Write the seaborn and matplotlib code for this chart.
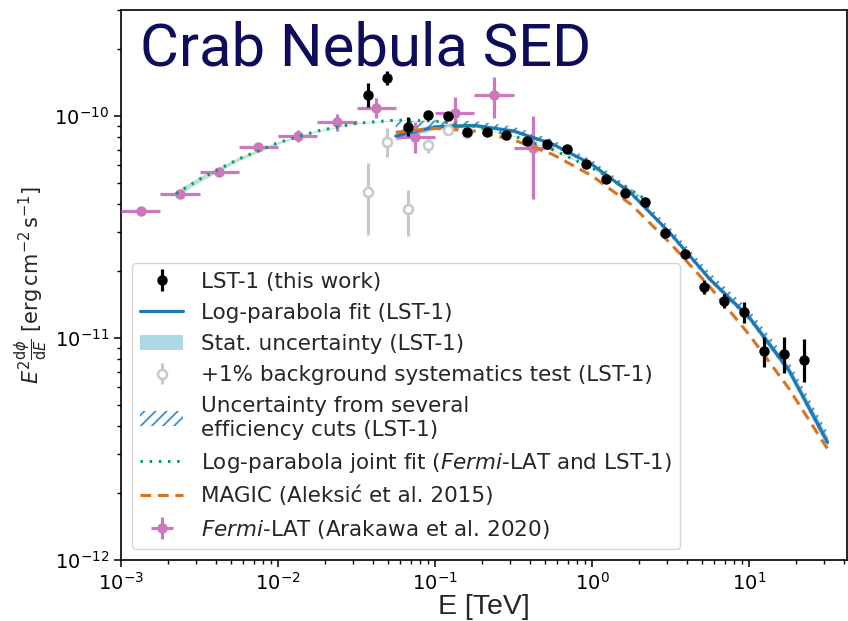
import numpy as np
import pandas as pd
import matplotlib
matplotlib.use("Agg")
import matplotlib.pyplot as plt
import seaborn as sns
from matplotlib.patches import Patch
from matplotlib.lines import Line2D
from matplotlib.ticker import FixedLocator

# ---------------- data ----------------
# LST-1 flux points [TeV], E^2 dN/dE [erg cm^-2 s^-1]
lst_energy = [0.0374, 0.0494, 0.0673, 0.0902, 0.121, 0.160, 0.214, 0.283, 0.385, 0.516,
              0.693, 0.916, 1.23, 1.62, 2.18, 2.92, 3.91, 5.16, 6.93, 9.29, 12.5, 16.7, 22.4]
lst_flux = [1.245e-10, 1.48e-10, 8.92e-11, 1.01e-10, 1.00e-10, 8.47e-11, 8.47e-11, 8.21e-11,
            7.71e-11, 7.48e-11, 7.10e-11, 6.08e-11, 5.20e-11, 4.50e-11, 4.10e-11, 2.97e-11,
            2.39e-11, 1.70e-11, 1.47e-11, 1.31e-11, 8.73e-12, 8.47e-12, 7.96e-12]
lst_err_lo = [1.46e-11, 1.06e-11, 8.1e-12, 3.5e-12, 3.5e-12, 3.0e-12, 3.0e-12, 2.9e-12,
              2.7e-12, 2.6e-12, 2.5e-12, 2.1e-12, 1.8e-12, 1.6e-12, 1.4e-12, 1.0e-12,
              0.8e-12, 1.20e-12, 1.04e-12, 1.40e-12, 1.34e-12, 1.52e-12, 1.63e-12]
lst_err_hi = [1.66e-11, 1.14e-11, 9.8e-12, 3.5e-12, 3.5e-12, 3.0e-12, 3.0e-12, 2.9e-12,
              2.7e-12, 2.6e-12, 2.5e-12, 2.1e-12, 1.8e-12, 1.6e-12, 1.4e-12, 1.0e-12,
              0.8e-12, 1.27e-12, 1.10e-12, 1.44e-12, 1.39e-12, 1.63e-12, 1.93e-12]

# +1% background systematics test
bkg_energy = [0.0374, 0.0494, 0.0673, 0.0902, 0.121, 0.160]
bkg_flux = [4.55e-11, 7.64e-11, 3.81e-11, 7.40e-11, 8.65e-11, 8.38e-11]
bkg_err_lo = [1.64e-11, 1.11e-11, 0.93e-11, 0.59e-11, 0.35e-11, 0.25e-11]
bkg_err_hi = [1.59e-11, 1.19e-11, 0.83e-11, 0.47e-11, 0.46e-11, 0.25e-11]

# Fermi-LAT (Arakawa et al. 2020)
fermi_edges = [1e-3, 1.778e-3, 3.162e-3, 5.623e-3, 1e-2, 1.778e-2, 3.162e-2, 5.623e-2,
               0.1, 0.1778, 0.3162, 0.5623]
fermi_energy = [1.334e-3, 2.371e-3, 4.217e-3, 7.499e-3, 1.334e-2, 2.371e-2, 4.217e-2,
                7.499e-2, 0.1334, 0.2371, 0.4217]
fermi_flux = [3.73e-11, 4.46e-11, 5.56e-11, 7.23e-11, 8.13e-11, 9.39e-11, 1.089e-10,
              8.07e-11, 1.032e-10, 1.245e-10, 7.16e-11]
fermi_err_lo = [0.07e-11, 0.09e-11, 0.12e-11, 0.2e-11, 0.47e-11, 0.80e-11, 1.10e-11,
                1.26e-11, 1.49e-11, 2.66e-11, 2.94e-11]
fermi_err_hi = [0.07e-11, 0.09e-11, 0.12e-11, 0.2e-11, 0.52e-11, 0.81e-11, 1.16e-11,
                1.35e-11, 1.90e-11, 2.55e-11, 2.84e-11]

# LST-1 log-parabola fit
fit_energy = [0.0562, 0.1, 0.178, 0.316, 0.562, 1.0, 1.78, 3.16, 5.62, 10.0, 17.8, 31.6]
lst_fit_flux = [8.11e-11, 8.91e-11, 9.06e-11, 8.55e-11, 7.46e-11, 6.04e-11, 4.47e-11,
                2.95e-11, 1.84e-11, 1.239e-11, 7.21e-12, 3.39e-12]
lst_stat_dex = [0.02, 0.012, 0.008, 0.006, 0.005, 0.005, 0.006, 0.008, 0.011, 0.015, 0.02, 0.027]
lst_sys_up_dex = [0.065, 0.03, 0.02, 0.02, 0.02, 0.02, 0.022, 0.025, 0.03, 0.035, 0.04, 0.045]
lst_sys_dn_dex = [0.005, 0.005, 0.008, 0.008, 0.01, 0.01, 0.01, 0.012, 0.012, 0.015, 0.015, 0.02]

# MAGIC (Aleksic et al. 2015)
magic_flux = [8.44e-11, 8.79e-11, 8.54e-11, 7.80e-11, 6.70e-11, 5.37e-11, 3.98e-11,
              2.66e-11, 1.70e-11, 1.035e-11, 5.96e-12, 3.16e-12]

# Joint fit (Fermi-LAT + LST-1)
joint_energy = [2.24e-3, 3.16e-3, 5.62e-3, 1.0e-2, 1.78e-2, 3.16e-2, 5.62e-2, 0.1,
                0.178, 0.316, 0.562, 1.0, 1.78, 2.24]
joint_flux = [4.46e-11, 5.18e-11, 6.40e-11, 7.57e-11, 8.55e-11, 9.26e-11, 9.57e-11,
              9.48e-11, 8.97e-11, 8.13e-11, 7.04e-11, 5.83e-11, 4.62e-11, 4.16e-11]
joint_band_dex = [0.014, 0.012, 0.008, 0.005, 0.003, 0.002, 0.002, 0.002, 0.002, 0.002,
                  0.002, 0.003, 0.004, 0.005]

x_major_ticks = [1e-3, 1e-2, 1e-1, 1e0, 1e1]
y_major_ticks = [1e-12, 1e-11, 1e-10]

# ---------------- style ----------------
sns.set_theme(style="ticks")
plt.rcParams.update({
    "font.family": ["DejaVu Sans"],
    "axes.linewidth": 1.2,
    "axes.edgecolor": "black",
    "xtick.major.size": 5, "ytick.major.size": 5,
    "xtick.minor.size": 3.2, "ytick.minor.size": 3.2,
    "xtick.major.width": 1.1, "ytick.major.width": 1.1,
    "xtick.minor.width": 1.0, "ytick.minor.width": 1.0,
    "xtick.labelsize": 14, "ytick.labelsize": 14,
    "xtick.color": "black", "ytick.color": "black",
    "hatch.linewidth": 1.3,
})

c_blue = "#1f77b4"
c_hatch = "#3d8fd1"
c_orange = "#d9731e"
c_green = "#029e73"
c_pink = "#cc78bc"
c_gray = "#c8c8c8"

fig, ax = plt.subplots(figsize=(8.48, 6.21), dpi=100)
fig.subplots_adjust(left=0.1427, right=0.9988, bottom=0.0982, top=0.984)
ax.set_xscale("log")
ax.set_yscale("log")

fit_df = pd.DataFrame({"E": fit_energy, "lst": lst_fit_flux, "magic": magic_flux})
fit_arr = np.array(lst_fit_flux)
stat = np.array(lst_stat_dex)
ax.fill_between(fit_energy, fit_arr * 10 ** (-stat), fit_arr * 10 ** stat,
                color="lightblue", lw=0, zorder=2)
ax.fill_between(fit_energy, fit_arr * 10 ** (-np.array(lst_sys_dn_dex)),
                fit_arr * 10 ** np.array(lst_sys_up_dex),
                facecolor="none", edgecolor=c_hatch, hatch="///", lw=0, zorder=3)

joint_arr = np.array(joint_flux)
jb = np.array(joint_band_dex)
ax.fill_between(joint_energy, joint_arr * 10 ** (-jb), joint_arr * 10 ** jb,
                color="#a9dcc9", alpha=0.8, lw=0, zorder=2)

sns.lineplot(data=fit_df, x="E", y="lst", ax=ax, color=c_blue, lw=2.3,
             estimator=None, sort=False, zorder=4)
sns.lineplot(data=fit_df, x="E", y="magic", ax=ax, color=c_orange, lw=2.2,
             linestyle=(0, (3.5, 2.2)), estimator=None, sort=False, zorder=4.5)
joint_df = pd.DataFrame({"E": joint_energy, "F": joint_flux})
sns.lineplot(data=joint_df, x="E", y="F", ax=ax, color=c_green, lw=2.2,
             linestyle=(0, (0.8, 2.2)), estimator=None, sort=False, zorder=5)

fe = np.array(fermi_energy)
edges = np.array(fermi_edges)
fermi_xerr = [fe - edges[:-1], edges[1:] - fe]
h_fermi = ax.errorbar(fermi_energy, fermi_flux, xerr=fermi_xerr,
                      yerr=[fermi_err_lo, fermi_err_hi], fmt="o", color=c_pink,
                      ms=6.5, elinewidth=2.3, capsize=0, zorder=3.5)
h_bkg = ax.errorbar(bkg_energy, bkg_flux, yerr=[bkg_err_lo, bkg_err_hi], fmt="o",
                    color=c_gray, mfc="white", mec=c_gray, mew=1.8, ms=6.5,
                    elinewidth=2.2, capsize=0, zorder=6)
h_lst = ax.errorbar(lst_energy, lst_flux, yerr=[lst_err_lo, lst_err_hi], fmt="o",
                    color="black", ms=6.5, elinewidth=2.3, capsize=0, zorder=7)

ax.set_xlim(1e-3, 42)
ax.set_ylim(1e-12, 3.0e-10)
ax.xaxis.set_major_locator(FixedLocator(x_major_ticks))
ax.yaxis.set_major_locator(FixedLocator(y_major_ticks))
ax.set_xlabel("E [TeV]", fontsize=20.5, family=["Liberation Sans", "DejaVu Sans"], labelpad=0)
ax.set_ylabel(r"$E^{2}\frac{\mathrm{d}\phi}{\mathrm{d}E}$ [erg$\,$cm$^{-2}\,$s$^{-1}$]",
              fontsize=15, labelpad=3)

h_stat = Patch(facecolor="lightblue", edgecolor="none")
h_sys = Patch(facecolor="none", edgecolor=c_hatch, hatch="///", lw=0)
h_fit = Line2D([], [], color=c_blue, lw=2.3)
h_joint = Line2D([], [], color=c_green, lw=2.2, linestyle=(0, (0.8, 2.2)))
h_magic = Line2D([], [], color=c_orange, lw=2.2, linestyle=(0, (3.5, 2.2)))

handles = [h_lst, h_fit, h_stat, h_bkg, h_sys, h_joint, h_magic, h_fermi]
labels = ["LST-1 (this work)",
          "Log-parabola fit (LST-1)",
          "Stat. uncertainty (LST-1)",
          "+1% background systematics test (LST-1)",
          "Uncertainty from several\nefficiency cuts (LST-1)",
          r"Log-parabola joint fit ($\it{Fermi}$-LAT and LST-1)",
          "MAGIC (Aleksić et al. 2015)",
          r"$\it{Fermi}$-LAT (Arakawa et al. 2020)"]
leg = ax.legend(handles, labels, loc="lower left", fontsize=15.5, labelspacing=0.52,
                framealpha=0.8, borderaxespad=0.5, handlelength=2.0, handletextpad=0.8)
leg.set_zorder(10)

fig.text(0.165, 0.894, "Crab Nebula SED", fontsize=43, color="#0d0d5c",
         family=["Roboto", "DejaVu Sans"], va="baseline", ha="left", zorder=20)

fig.savefig("out.png", dpi=100)
